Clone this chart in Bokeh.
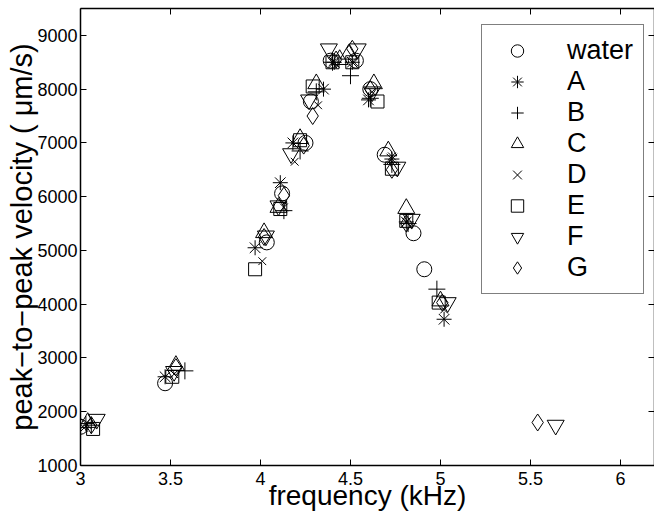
from bokeh.plotting import figure
from bokeh.models import LinearAxis, FixedTicker, Range1d, Legend, LegendItem
from bokeh.embed import file_html
from bokeh.resources import INLINE

series_names = ["water", "A", "B", "C", "D", "E", "F", "G"]
series_markers = ["circle", "asterisk", "cross", "triangle", "x", "square", "inverted_triangle", "diamond"]

freq_water = [3.00, 3.47, 4.035, 4.12, 4.25, 4.28, 4.39, 4.53, 4.61, 4.69, 4.85, 4.91]
vel_water = [1720, 2530, 5150, 6060, 7000, 7770, 8530, 8530, 8000, 6780, 5320, 4650]
freq_A = [3.03, 3.47, 3.97, 4.11, 4.18, 4.35, 4.41, 4.51, 4.60, 4.73, 4.81, 5.02]
vel_A = [1780, 2650, 5050, 6260, 7000, 8000, 8500, 8500, 7800, 6700, 5530, 3720]
freq_B = [3.06, 3.58, 4.13, 4.22, 4.31, 4.40, 4.50, 4.61, 4.73, 4.82, 4.98]
vel_B = [1750, 2760, 5740, 6850, 7950, 8500, 8250, 7830, 6600, 5500, 4280]
freq_C = [3.04, 3.53, 4.02, 4.10, 4.22, 4.31, 4.44, 4.49, 4.63, 4.71, 4.81, 5.00]
vel_C = [1800, 2860, 5330, 5800, 7080, 8100, 8550, 8650, 8100, 6850, 5780, 4060]
freq_D = [3.02, 3.52, 4.01, 4.13, 4.19, 4.32, 4.40, 4.52, 4.62, 4.73, 4.81, 5.02]
vel_D = [1700, 2700, 4800, 5800, 6650, 7700, 8500, 8500, 7950, 6750, 5530, 3900]
freq_E = [3.07, 3.51, 3.97, 4.11, 4.22, 4.29, 4.40, 4.51, 4.65, 4.73, 4.81, 4.99]
vel_E = [1680, 2650, 4650, 5770, 7050, 8050, 8500, 8500, 7770, 6520, 5550, 4030]
freq_F = [3.09, 3.52, 4.03, 4.10, 4.17, 4.27, 4.38, 4.54, 4.62, 4.76, 4.84, 5.04, 5.64]
vel_F = [1860, 2750, 5270, 5830, 6800, 7800, 8750, 8750, 7950, 6550, 5580, 4030, 1750]
freq_G = [3.06, 3.53, 4.02, 4.13, 4.24, 4.29, 4.42, 4.51, 4.61, 4.73, 4.81, 5.01, 5.54]
vel_G = [1750, 2830, 5250, 6020, 6950, 7500, 8550, 8750, 8000, 6500, 5500, 4030, 1800]

x_ticks = [3, 3.5, 4, 4.5, 5, 5.5, 6]
x_tick_labels = ["3", "3.5", "4", "4.5", "5", "5.5", "6"]
y_ticks = [1000, 2000, 3000, 4000, 5000, 6000, 7000, 8000, 9000]

all_freqs = [freq_water, freq_A, freq_B, freq_C, freq_D, freq_E, freq_F, freq_G]
all_vels = [vel_water, vel_A, vel_B, vel_C, vel_D, vel_E, vel_F, vel_G]
marker_sizes = [15, 15, 17, 17, 11, 13, 17, 17]

FONT = "Liberation Sans"

p = figure(frame_width=574, frame_height=457, output_backend="svg", toolbar_location=None,
           x_range=Range1d(3, 6.189), y_range=Range1d(1000, 9500),
           min_border_left=80, min_border_right=0, min_border_top=8, min_border_bottom=50,
           x_axis_label="frequency (kHz)", y_axis_label="peak\u2212to\u2212peak velocity ( \u03bcm/s)")
p.grid.visible = False
p.outline_line_color = None
p.background_fill_color = "white"
p.border_fill_color = "white"

p.add_layout(LinearAxis(), "above")
p.add_layout(LinearAxis(), "right")

for ax in p.xaxis:
    ax.ticker = FixedTicker(ticks=x_ticks)
    ax.major_label_overrides = {t: l for t, l in zip(x_ticks, x_tick_labels)}
for ax in p.yaxis:
    ax.ticker = FixedTicker(ticks=y_ticks)
for ax in p.xaxis + p.yaxis:
    ax.major_tick_in = 6
    ax.major_tick_out = 0
    ax.minor_tick_line_color = None
    ax.axis_line_width = 1.5
    ax.axis_line_color = "black"
    ax.major_tick_line_color = "black"
    ax.major_label_text_font = FONT
    ax.major_label_text_font_size = "18px"
    ax.major_label_text_color = "black"
    ax.axis_label_text_font = FONT
    ax.axis_label_text_font_size = "28px"
    ax.axis_label_text_font_style = "normal"
    ax.axis_label_text_color = "black"
    ax.major_label_standoff = 3
    ax.axis_label_standoff = -4

p.left[0].axis_label_text_font_size = "29px"
p.below[0].major_label_standoff = 6
p.below[0].axis_label_standoff = -8

p.above[0].major_label_overrides = {t: "" for t in x_ticks}
p.above[0].major_label_standoff = 0
p.right[0].major_label_overrides = {t: "" for t in y_ticks}
p.right[0].major_label_standoff = 0

items = []
for name, mk, fx, vy, ms in zip(series_names, series_markers, all_freqs, all_vels, marker_sizes):
    r = p.scatter(fx, vy, marker=mk, size=ms, fill_color=None, line_color="black", line_width=1)
    items.append(LegendItem(label=name, renderers=[r]))

legend = Legend(items=items, location=(401, 171))
legend.glyph_width = 50
legend.glyph_height = 31
legend.label_height = 31
legend.spacing = 0
legend.padding = 10
legend.label_standoff = 25
legend.label_text_font = FONT
legend.label_text_font_size = "27px"
legend.label_text_color = "black"
legend.border_line_color = "black"
legend.border_line_width = 1.5
legend.background_fill_alpha = 1
p.add_layout(legend, "center")

open("out.html", "w").write(file_html(p, INLINE))
